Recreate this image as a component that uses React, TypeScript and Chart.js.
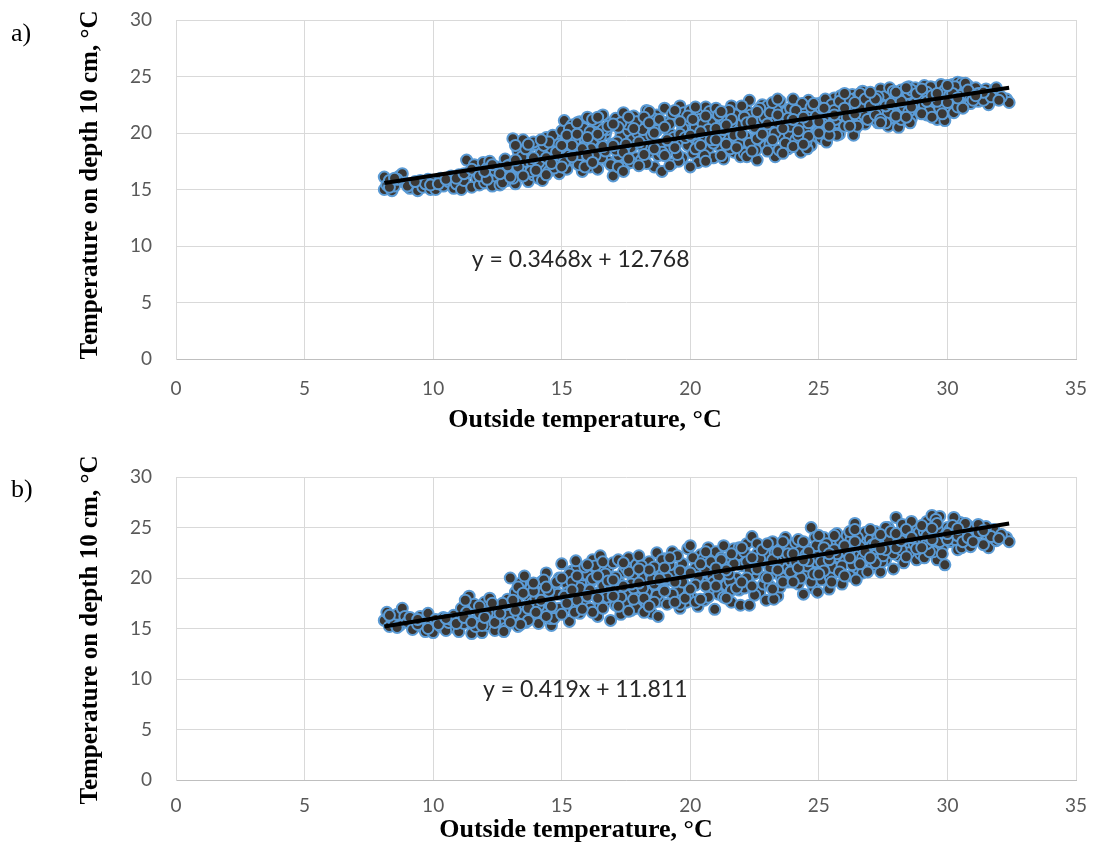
import React, { useEffect, useRef } from "react";
import { Chart, registerables } from "chart.js";

Chart.register(...registerables);

// ---------- data ----------
const xTickValues = [0, 5, 10, 15, 20, 25, 30, 35];
const yTickValues = [0, 5, 10, 15, 20, 25, 30];

// a) outside temperature (x) vs temperature at 10 cm depth (y)
const pointsA1: [number, number][] = [
  [8.1,16.1],[8.1,15.0],[8.2,15.4],[8.3,15.8],[8.4,14.9],[8.5,15.3],[8.7,16.2],[8.8,16.4],[8.9,15.6],[8.6,15.9],
  [9.1,15.1],[9.2,15.5],[9.4,14.9],[9.5,15.8],[9.6,15.2],[9.8,15.9],[9.9,15.0],[9.7,15.5],
  [10.0,15.6],[10.1,15.0],[10.3,16.0],[10.4,15.3],[10.6,15.7],[10.7,16.2],[10.8,15.1],[10.9,15.5],
  [11.0,16.3],[11.1,15.0],[11.2,15.8],[11.3,17.6],[11.4,16.5],[11.5,15.2],[11.6,17.2],[11.7,16.0],[11.8,15.4],[11.9,16.8],[11.95,17.4],
  [12.0,15.6],[12.1,16.9],[12.2,17.5],[12.3,15.3],[12.4,16.2],[12.5,17.0],[12.6,15.4],[12.7,16.6],[12.8,17.7],[12.9,15.8],[12.95,16.3],
  [13.0,17.2],[13.1,19.5],[13.2,15.5],[13.3,18.4],[13.4,16.8],[13.5,19.4],[13.6,17.5],[13.7,15.7],[13.8,18.9],[13.9,16.3],[13.45,17.9],[13.85,17.4],
  [14.0,19.0],[14.1,16.0],[14.2,18.2],[14.3,17.0],[14.4,19.6],[14.5,16.6],[14.6,18.6],[14.7,17.6],[14.8,19.3],[14.9,16.4],[14.25,15.8],[14.65,19.8],[14.95,18.0],
  [15.0,20.2],[15.1,21.1],[15.2,16.8],[15.3,19.0],[15.4,20.7],[15.5,17.6],[15.6,18.4],[15.7,21.0],[15.8,16.6],[15.9,19.6],[15.25,18.0],[15.45,20.0],[15.65,17.2],[15.85,20.4],[15.95,18.8],
  [16.0,21.4],[16.1,17.0],[16.2,19.3],[16.3,20.6],[16.4,16.8],[16.5,18.2],[16.6,21.6],[16.7,19.9],[16.8,17.5],[16.9,20.9],[16.15,18.6],[16.35,21.0],[16.55,17.8],[16.75,20.3],[16.95,19.0],
  [17.0,16.2],[17.1,21.3],[17.2,18.0],[17.3,19.7],[17.4,21.8],[17.5,17.2],[17.6,20.2],[17.7,18.7],[17.8,21.5],[17.9,17.8],[17.15,19.2],[17.35,16.9],[17.55,20.8],[17.75,19.4],[17.95,20.0],
  [18.0,21.0],[18.1,17.6],[18.2,19.5],[18.3,22.0],[18.4,18.3],[18.5,20.5],[18.6,17.0],[18.7,21.6],[18.8,19.0],[18.9,16.6],[18.15,20.3],[18.35,18.8],[18.55,21.3],[18.75,18.0],[18.95,20.9],
  [19.0,22.2],[19.1,18.4],[19.2,20.0],[19.3,17.3],[19.4,21.4],[19.5,19.2],[19.6,22.4],[19.7,17.8],[19.8,20.7],[19.9,18.9],[19.15,21.0],[19.35,19.6],[19.55,17.5],[19.75,21.8],[19.95,20.2],
  [20.0,22.0],[20.1,18.2],[20.2,20.5],[20.3,17.4],[20.4,21.7],[20.5,19.3],[20.6,22.3],[20.7,18.6],[20.8,20.9],[20.9,17.8],[20.15,19.6],[20.35,21.2],[20.55,18.0],[20.75,21.9],[20.95,20.0],
  [21.0,22.2],[21.1,18.9],[21.2,20.6],[21.3,17.7],[21.4,21.8],[21.5,19.5],[21.6,22.4],[21.7,18.3],[21.8,20.2],[21.9,21.3],[21.15,19.9],[21.35,21.0],[21.55,18.6],[21.75,21.6],[21.95,17.9],
  [22.0,20.8],[22.1,18.2],[22.2,22.0],[22.3,22.9],[22.4,19.4],[22.5,21.2],[22.6,17.6],[22.7,20.0],[22.8,22.5],[22.9,18.8],[22.15,19.7],[22.35,21.6],[22.55,18.5],[22.75,21.0],[22.95,20.4],
  [23.0,22.4],[23.1,19.0],[23.2,21.3],[23.3,17.9],[23.4,20.5],[23.5,22.8],[23.6,19.6],[23.7,21.8],[23.8,18.6],[23.9,22.2],[23.15,20.1],[23.45,18.5],[23.65,20.9],[23.85,19.9],[23.35,22.0],
  [24.0,23.0],[24.1,19.4],[24.2,21.5],[24.3,18.3],[24.4,22.3],[24.5,20.4],[24.6,22.9],[24.7,18.9],[24.8,21.1],[24.9,19.8],[24.15,20.7],[24.35,22.6],[24.55,18.6],[24.75,21.8],[24.95,20.1],
  [25.0,22.6],[25.1,19.5],[25.2,21.4],[25.3,19.2],[25.4,22.8],[25.5,20.3],[25.6,23.1],[25.7,20.9],[25.8,19.9],[25.9,22.2],[25.15,20.8],[25.45,21.9],[25.65,21.2],[25.85,23.3],[25.25,23.0],
  [26.0,20.6],[26.1,22.9],[26.2,21.5],[26.3,23.4],[26.4,20.3],[26.5,22.4],[26.6,21.0],[26.7,23.7],[26.8,20.8],[26.9,22.0],[26.15,21.9],[26.45,23.1],[26.75,21.6],[26.35,19.8],[26.95,23.3],
  [27.0,21.3],[27.1,23.5],[27.2,22.2],[27.3,20.9],[27.4,23.9],[27.5,21.7],[27.6,22.8],[27.7,20.6],[27.8,23.4],[27.9,22.0],[27.25,21.1],[27.55,23.2],[27.85,21.4],[27.45,22.5],[27.75,24.0],
  [28.0,22.6],[28.1,20.5],[28.2,23.8],[28.3,21.6],[28.4,22.9],[28.5,24.1],[28.6,21.3],[28.7,23.2],[28.8,22.1],[28.9,23.9],[28.25,22.4],[28.55,20.9],[28.75,24.0],[28.95,21.8],[28.45,23.5],
  [29.0,22.9],[29.1,24.2],[29.2,21.6],[29.3,23.4],[29.4,22.4],[29.5,24.0],[29.6,21.2],[29.7,23.7],[29.8,22.7],[29.9,21.1],[29.15,23.0],[29.45,21.9],[29.75,24.3],[29.95,23.2],[29.35,24.1],
  [30.0,23.8],[30.1,22.3],[30.2,24.3],[30.3,23.0],[30.4,24.5],[30.5,22.6],[30.6,23.9],[30.7,22.9],[30.8,24.2],[30.9,23.5],[30.25,21.8],[30.55,24.4],[30.85,22.8],[30.65,23.4],
  [31.0,23.6],[31.1,24.0],[31.3,23.2],[31.5,23.9],[31.6,22.5],[31.8,23.7],[31.9,24.0],[31.2,22.8],
  [32.3,23.0],[32.4,22.7],[32.1,23.2],
];
const pointsA2: [number, number][] = [
  [8.3,15.2],[8.5,16.0],[9.0,15.3],[9.3,15.7],[9.9,15.4],[10.2,15.5],[10.5,15.9],[10.9,16.0],
  [11.2,16.4],[11.5,16.8],[11.8,16.2],[12.1,15.9],[12.4,16.7],[12.7,15.6],[12.9,17.1],
  [13.1,16.0],[13.3,17.0],[13.6,18.6],[13.8,16.6],[13.2,18.9],[13.9,19.2],
  [14.1,17.4],[14.3,18.9],[14.5,19.2],[14.7,16.9],[14.9,19.0],[14.4,17.8],
  [15.1,17.4],[15.3,20.4],[15.5,19.3],[15.7,18.1],[15.9,17.0],[15.4,18.9],[15.6,20.9],
  [16.1,20.1],[16.3,18.0],[16.5,19.7],[16.7,18.4],[16.9,17.2],[16.2,21.2],[16.6,20.3],
  [17.1,18.5],[17.3,20.9],[17.5,19.0],[17.7,17.4],[17.9,21.0],[17.2,17.0],[17.6,21.4],
  [18.1,18.9],[18.3,17.3],[18.5,19.8],[18.7,20.2],[18.9,18.3],[18.4,21.9],[18.2,21.4],
  [19.1,19.4],[19.3,21.7],[19.5,18.1],[19.7,20.4],[19.9,21.5],[19.2,17.1],[19.6,19.9],
  [20.1,21.2],[20.3,19.0],[20.5,20.8],[20.7,20.3],[20.9,19.1],[20.2,22.3],[20.6,17.5],
  [21.1,21.6],[21.3,20.3],[21.5,22.0],[21.7,19.8],[21.9,19.0],[21.2,18.0],[21.6,20.9],
  [22.1,21.4],[22.3,19.1],[22.5,20.5],[22.7,22.2],[22.9,21.4],[22.2,17.9],[22.6,19.5],
  [23.1,21.8],[23.3,20.0],[23.5,21.2],[23.7,19.1],[23.9,20.6],[23.2,22.7],[23.6,18.2],
  [24.1,22.0],[24.3,21.0],[24.5,19.2],[24.7,22.3],[24.9,21.5],[24.2,19.8],[24.6,20.9],
  [25.1,22.2],[25.3,20.4],[25.5,22.5],[25.7,19.8],[25.9,21.6],[25.2,20.0],[25.6,22.0],
  [26.1,21.4],[26.3,22.3],[26.5,20.6],[26.7,22.6],[26.9,21.2],[26.2,23.0],[26.6,23.5],
  [27.1,22.6],[27.3,23.2],[27.5,22.0],[27.7,21.8],[27.9,23.7],[27.2,21.6],[27.6,20.9],
  [28.1,23.1],[28.3,22.3],[28.5,21.9],[28.7,22.6],[28.9,23.3],[28.2,21.2],[28.6,23.8],
  [29.1,22.5],[29.3,21.9],[29.5,23.1],[29.7,22.2],[29.9,23.8],[29.2,23.6],[29.6,22.8],
  [30.1,23.4],[30.3,24.1],[30.5,23.3],[30.7,24.4],[30.9,22.6],[30.4,22.3],
  [31.2,23.5],[31.4,22.9],[31.7,23.2],[32.0,22.9],
];
const pointsA3: [number, number][] = [
  [12.0,16.6],[12.3,17.2],[12.6,16.4],[13.0,16.1],[13.2,17.6],[13.5,16.2],[13.7,19.0],[13.9,17.8],
  [14.0,16.7],[14.2,19.4],[14.4,16.3],[14.6,17.3],[14.8,18.3],[15.0,17.0],[15.2,19.8],[15.4,17.9],[15.6,19.9],[15.8,18.6],[15.0,18.9],
  [16.0,18.0],[16.2,17.4],[16.4,19.9],[16.6,18.8],[16.8,20.6],[16.0,19.6],[16.4,21.4],
  [17.0,18.9],[17.2,20.5],[17.4,18.3],[17.6,17.7],[17.8,20.4],[17.0,20.8],[17.4,16.6],
  [18.0,19.2],[18.2,18.1],[18.4,20.9],[18.6,18.6],[18.8,21.2],[18.0,17.1],[18.6,20.0],
  [19.0,18.0],[19.2,20.8],[19.4,18.7],[19.6,21.0],[19.8,19.6],[19.0,20.5],[19.4,22.0],
  [20.0,19.8],[20.2,18.6],[20.4,20.1],[20.6,21.5],[20.8,19.4],[20.0,17.0],[20.4,18.9],
  [21.0,20.4],[21.2,21.9],[21.4,19.0],[21.6,21.2],[21.8,18.7],[21.0,19.4],[21.4,20.7],
  [22.0,19.9],[22.2,20.9],[22.4,18.4],[22.6,21.9],[22.8,19.9],[22.0,22.4],[22.4,21.0],
  [23.0,20.8],[23.2,19.4],[23.4,21.6],[23.6,20.4],[23.8,21.3],[23.0,18.4],[23.4,23.0],
  [24.0,21.2],[24.2,20.2],[24.4,21.4],[24.6,19.7],[24.8,22.6],[24.0,18.8],[24.4,19.0],
  [25.0,21.0],[25.2,22.2],[25.4,19.8],[25.6,21.6],[25.8,22.8],[25.0,20.0],[25.4,20.6],
  [26.0,22.2],[26.2,20.6],[26.4,21.7],[26.6,22.3],[26.8,23.0],[26.0,23.5],[26.4,22.7],
  [27.0,22.4],[27.2,23.0],[27.4,21.2],[27.6,22.4],[27.8,22.6],[27.0,23.6],[27.4,20.9],
  [28.0,21.5],[28.2,22.8],[28.4,21.4],[28.6,22.3],[28.8,23.5],[28.0,23.6],[28.4,24.0],
  [29.0,21.7],[29.2,22.8],[29.4,23.3],[29.6,23.5],[29.8,21.7],[29.0,23.9],[29.4,21.4],
  [30.0,22.7],[30.2,23.5],[30.4,23.1],[30.6,22.2],[30.8,23.8],[30.0,24.2],
  [31.0,22.9],[31.4,23.6],[31.1,23.3],
];
const trendXA = [8.1, 32.4];
const trendYA = [15.58, 24.0];
const equationA = "y = 0.3468x + 12.768";

// b)
const pointsB1: [number, number][] = [
  [8.1,15.8],[8.2,16.6],[8.3,15.2],[8.4,16.0],[8.5,15.5],[8.6,16.4],[8.8,17.0],[8.9,16.2],[8.7,15.3],
  [9.0,15.6],[9.2,14.9],[9.3,15.8],[9.5,16.2],[9.6,15.1],[9.7,14.7],[9.8,16.5],[9.9,15.5],[9.4,15.4],
  [10.0,14.6],[10.1,15.9],[10.3,15.2],[10.4,16.1],[10.5,14.8],[10.6,15.6],[10.8,16.3],[10.9,15.0],[10.7,15.9],
  [11.0,14.7],[11.1,17.0],[11.2,15.5],[11.3,16.6],[11.4,18.2],[11.5,14.5],[11.6,17.4],[11.7,15.9],[11.8,16.5],[11.9,14.6],[11.25,17.8],[11.65,15.2],
  [12.0,17.6],[12.1,15.3],[12.2,18.0],[12.3,16.2],[12.4,14.8],[12.5,17.2],[12.6,15.7],[12.7,16.8],[12.8,15.0],[12.9,17.9],[12.35,16.6],[12.75,14.7],
  [13.0,20.0],[13.1,16.3],[13.2,18.6],[13.3,15.2],[13.4,19.5],[13.5,17.1],[13.6,15.6],[13.7,18.2],[13.8,19.0],[13.9,16.0],[13.25,17.6],[13.55,20.2],[13.85,17.5],
  [14.0,18.0],[14.1,15.5],[14.2,19.6],[14.3,16.8],[14.4,20.5],[14.5,17.5],[14.6,15.3],[14.7,19.0],[14.8,16.4],[14.9,20.0],[14.25,18.5],[14.55,16.0],[14.85,18.4],
  [15.0,21.4],[15.1,16.9],[15.2,19.4],[15.3,15.7],[15.4,20.7],[15.5,18.0],[15.6,21.0],[15.7,16.5],[15.8,19.8],[15.9,17.4],[15.25,18.6],[15.55,21.7],[15.85,20.3],[15.45,17.3],
  [16.0,20.3],[16.1,17.0],[16.2,21.8],[16.3,18.5],[16.4,16.2],[16.5,22.2],[16.6,19.2],[16.7,17.6],[16.8,21.0],[16.9,15.8],[16.15,19.7],[16.45,20.9],[16.75,18.1],[16.95,20.0],
  [17.0,21.5],[17.1,17.3],[17.2,19.7],[17.3,16.4],[17.4,20.6],[17.5,18.4],[17.6,22.0],[17.7,16.8],[17.8,19.0],[17.9,21.3],[17.15,18.7],[17.45,17.5],[17.75,20.2],[17.95,18.0],
  [18.0,22.2],[18.1,17.0],[18.2,20.0],[18.3,18.6],[18.4,21.6],[18.5,16.5],[18.6,19.4],[18.7,22.5],[18.8,17.7],[18.9,20.8],[18.15,19.0],[18.45,20.5],[18.75,16.2],[18.95,18.8],
  [19.0,21.9],[19.1,17.4],[19.2,19.8],[19.3,22.6],[19.4,18.2],[19.5,20.9],[19.6,17.0],[19.7,21.4],[19.8,19.2],[19.9,22.9],[19.25,20.4],[19.55,18.8],[19.85,17.6],[19.95,20.6],
  [20.0,23.2],[20.1,18.0],[20.2,21.0],[20.3,17.2],[20.4,22.3],[20.5,19.5],[20.6,20.7],[20.7,23.0],[20.8,18.6],[20.9,21.8],[20.25,19.9],[20.55,17.8],[20.85,20.2],[20.95,16.9],
  [21.0,22.6],[21.1,18.4],[21.2,20.6],[21.3,23.2],[21.4,19.3],[21.5,21.7],[21.6,17.6],[21.7,22.9],[21.8,20.0],[21.9,18.8],[21.25,21.3],[21.55,19.7],[21.85,22.3],[21.95,17.3],
  [22.0,21.2],[22.1,19.0],[22.2,23.4],[22.3,17.3],[22.4,24.1],[22.5,20.4],[22.6,22.4],[22.7,18.6],[22.8,21.6],[22.9,23.0],[22.25,19.8],[22.55,21.0],[22.85,19.4],[22.95,17.8],
  [23.0,22.2],[23.1,19.2],[23.2,23.6],[23.3,20.5],[23.4,18.2],[23.5,22.8],[23.6,21.2],[23.7,24.0],[23.8,19.6],[23.9,21.7],[23.25,17.9],[23.55,20.0],[23.85,23.0],[23.45,21.6],
  [24.0,20.9],[24.1,23.5],[24.2,19.4],[24.3,22.0],[24.4,18.4],[24.5,23.0],[24.6,20.4],[24.7,25.0],[24.8,19.0],[24.9,21.6],[24.25,22.6],[24.55,21.2],[24.85,24.0],[24.95,18.6],
  [25.0,22.8],[25.1,19.8],[25.2,24.0],[25.3,21.3],[25.4,18.9],[25.5,23.3],[25.6,20.6],[25.7,24.4],[25.8,22.0],[25.9,19.4],[25.25,22.5],[25.55,21.0],[25.85,23.6],[25.45,20.0],
  [26.0,21.6],[26.1,24.2],[26.2,20.2],[26.3,23.0],[26.4,25.4],[26.5,21.0],[26.6,22.6],[26.7,20.5],[26.8,24.5],[26.9,21.9],[26.25,23.8],[26.55,22.2],[26.85,23.4],[26.45,19.8],
  [27.0,23.8],[27.1,21.2],[27.2,24.6],[27.3,22.4],[27.4,20.6],[27.5,24.0],[27.6,21.8],[27.7,25.0],[27.8,23.0],[27.9,20.9],[27.25,22.9],[27.55,23.5],[27.85,24.4],[27.45,21.6],
  [28.0,26.0],[28.1,22.2],[28.2,24.2],[28.3,21.5],[28.4,23.4],[28.5,25.2],[28.6,22.8],[28.7,24.8],[28.8,21.8],[28.9,23.8],[28.25,25.3],[28.55,23.0],[28.85,25.0],[28.95,22.4],
  [29.0,24.0],[29.1,22.0],[29.2,25.6],[29.3,23.2],[29.4,26.2],[29.5,24.4],[29.6,21.8],[29.7,26.1],[29.8,23.0],[29.9,21.3],[29.25,24.8],[29.55,25.8],[29.85,24.6],[29.45,22.6],
  [30.0,25.0],[30.1,23.6],[30.2,24.3],[30.3,25.8],[30.4,22.8],[30.5,25.5],[30.6,24.0],[30.7,23.3],[30.8,25.2],[30.9,24.6],[30.25,26.0],[30.55,23.0],[30.85,23.6],
  [31.0,24.8],[31.1,24.2],[31.3,25.0],[31.5,24.4],[31.6,23.0],[31.8,24.8],[31.9,23.7],[31.4,23.3],
  [32.3,24.0],[32.4,23.6],[32.1,24.3],
];
const pointsB2: [number, number][] = [
  [8.3,16.3],[8.6,15.1],[9.1,16.1],[9.4,15.9],[9.8,15.0],[10.2,15.4],[10.5,16.0],[10.9,15.5],
  [11.2,16.1],[11.5,15.6],[11.8,17.2],[12.1,16.5],[12.4,15.6],[12.7,17.5],[12.9,16.3],[11.9,15.3],
  [13.1,17.8],[13.3,19.1],[13.5,16.4],[13.7,15.8],[13.9,18.7],[13.4,15.4],
  [14.1,17.2],[14.3,19.8],[14.5,18.7],[14.7,16.0],[14.9,17.0],[14.4,16.2],
  [15.1,18.2],[15.3,20.4],[15.5,16.6],[15.7,19.0],[15.9,21.1],[15.4,19.6],[15.6,17.8],
  [16.1,18.8],[16.3,21.2],[16.5,17.3],[16.7,20.4],[16.9,19.1],[16.2,16.6],[16.6,21.6],
  [17.1,20.1],[17.3,18.1],[17.5,21.0],[17.7,19.4],[17.9,17.0],[17.2,21.8],[17.6,16.7],
  [18.1,21.2],[18.3,17.5],[18.5,19.9],[18.7,18.3],[18.9,21.8],[18.2,16.6],[18.6,21.1],
  [19.1,20.0],[19.3,18.4],[19.5,22.2],[19.7,19.6],[19.9,18.2],[19.2,21.3],[19.6,17.4],
  [20.1,22.0],[20.3,20.1],[20.5,21.9],[20.7,18.1],[20.9,19.6],[20.2,17.6],[20.6,22.6],
  [21.1,20.2],[21.3,18.1],[21.5,20.4],[21.7,21.4],[21.9,23.0],[21.2,22.0],[21.6,18.8],
  [22.1,22.6],[22.3,20.8],[22.5,18.3],[22.7,21.9],[22.9,20.1],[22.2,20.0],[22.6,23.4],
  [23.1,21.0],[23.3,22.5],[23.5,19.1],[23.7,22.2],[23.9,20.6],[23.2,18.9],[23.6,23.6],
  [24.1,21.6],[24.3,20.0],[24.5,22.3],[24.7,19.6],[24.9,23.2],[24.2,23.8],[24.6,21.7],
  [25.1,21.6],[25.3,23.4],[25.5,19.6],[25.7,22.4],[25.9,21.2],[25.2,20.7],[25.6,24.2],
  [26.1,22.6],[26.3,21.3],[26.5,24.0],[26.7,22.0],[26.9,20.6],[26.2,24.6],[26.6,23.1],
  [27.1,23.3],[27.3,24.0],[27.5,22.2],[27.7,23.8],[27.9,22.4],[27.2,21.5],[27.6,25.0],
  [28.1,23.5],[28.3,24.4],[28.5,22.5],[28.7,23.4],[28.9,24.5],[28.2,22.8],[28.6,25.6],
  [29.1,24.6],[29.3,22.6],[29.5,25.1],[29.7,23.6],[29.9,24.3],[29.2,23.4],[29.6,24.9],
  [30.1,24.8],[30.3,23.8],[30.5,24.6],[30.7,25.4],[30.9,23.1],[30.4,24.2],
  [31.2,24.5],[31.5,25.1],[31.7,24.1],[32.0,23.9],
];
const pointsB3: [number, number][] = [
  [12.0,16.1],[12.3,17.5],[12.6,16.5],[13.0,15.6],[13.2,16.8],[13.5,18.5],[13.7,17.0],[13.9,19.5],
  [14.0,16.6],[14.2,17.8],[14.4,19.1],[14.6,17.2],[14.8,19.6],[15.0,16.4],[15.2,17.5],[15.4,18.8],[15.6,20.2],[15.8,16.9],[15.0,20.0],
  [16.0,18.2],[16.2,19.9],[16.4,18.0],[16.6,17.0],[16.8,19.7],[16.0,21.3],[16.4,20.2],
  [17.0,18.2],[17.2,17.2],[17.4,19.2],[17.6,20.6],[17.8,17.9],[17.0,19.8],[17.4,21.5],
  [18.0,19.5],[18.2,18.0],[18.4,20.8],[18.6,17.6],[18.8,19.9],[18.0,20.9],[18.4,17.2],
  [19.0,18.7],[19.2,22.0],[19.4,19.6],[19.6,20.7],[19.8,18.0],[19.0,21.0],[19.4,17.6],
  [20.0,20.5],[20.2,19.3],[20.4,17.9],[20.6,19.2],[20.8,21.6],[20.0,18.9],[20.4,21.4],
  [21.0,19.2],[21.2,21.8],[21.4,20.8],[21.6,22.4],[21.8,19.0],[21.0,21.0],[21.4,18.0],
  [22.0,19.6],[22.2,21.6],[22.4,19.2],[22.6,20.9],[22.8,22.8],[22.0,23.0],[22.4,22.0],
  [23.0,20.0],[23.2,21.8],[23.4,22.6],[23.6,19.6],[23.8,22.4],[23.0,23.4],[23.4,20.8],
  [24.0,22.4],[24.2,21.0],[24.4,23.6],[24.6,22.6],[24.8,20.4],[24.0,19.6],[24.4,21.8],
  [25.0,20.4],[25.2,23.0],[25.4,21.8],[25.6,22.8],[25.8,20.6],[25.0,24.2],[25.4,22.4],
  [26.0,23.2],[26.2,22.0],[26.4,23.6],[26.6,21.4],[26.8,22.6],[26.0,20.2],[26.4,24.8],
  [27.0,22.0],[27.2,23.4],[27.4,24.3],[27.6,22.8],[27.8,24.6],[27.0,24.8],[27.4,22.9],
  [28.0,23.0],[28.2,23.7],[28.4,24.8],[28.6,24.0],[28.8,22.9],[28.0,24.4],[28.4,22.1],
  [29.0,23.0],[29.2,24.2],[29.4,23.8],[29.6,25.4],[29.8,22.4],[29.0,25.2],[29.4,24.9],
  [30.0,23.8],[30.2,25.2],[30.4,24.9],[30.6,23.6],[30.8,24.0],[30.0,24.4],
  [31.0,23.6],[31.2,25.3],[31.4,24.7],
];
const trendXB = [8.1, 32.4];
const trendYB = [15.2, 25.39];
const equationB = "y = 0.419x + 11.811";

const xTitle = "Outside temperature, °C";
const yTitle = "Temperature on depth 10 cm, °C";

// ---------- component ----------
const overlayPlugin = {
  id: "overlay",
  afterDraw(chart: any, _args: any, opts: any) {
    const ctx = chart.ctx;
    const xs = chart.scales.x;
    const ys = chart.scales.y;
    ctx.save();
    ctx.font = "23px Lato";
    ctx.fillStyle = "#262626";
    ctx.textAlign = "left";
    ctx.textBaseline = "middle";
    ctx.fillText(opts.equation, xs.getPixelForValue(opts.eqX), ys.getPixelForValue(opts.eqY));
    ctx.font = '26px "Liberation Serif"';
    ctx.fillStyle = "#000";
    ctx.fillText(opts.panel, 11, opts.panelY);
    ctx.font = 'bold 26px "Liberation Serif"';
    ctx.textAlign = "center";
    ctx.fillText(opts.xTitle, opts.xTitleX, opts.xTitleY);
    ctx.translate(91, opts.yTitleY);
    ctx.rotate(-Math.PI / 2);
    ctx.font = 'bold 25px "Liberation Serif"';
    ctx.fillText(opts.yTitle, 0, 0);
    ctx.restore();
  },
};

type PanelProps = {
  points: [number, number][];
  trendX: number[];
  trendY: number[];
  equation: string;
  eqX: number;
  eqY: number;
  panel: string;
  panelY: number;
  top: number;
  height: number;
  padTop: number;
  xAxisHeight: number;
  tickPadX: number;
  xTitleX: number;
  xTitleY: number;
  yTitleY: number;
};

function Panel(p: PanelProps) {
  const ref = useRef<HTMLCanvasElement | null>(null);
  useEffect(() => {
    if (!ref.current) return;
    const chart = new Chart(ref.current, {
      type: "scatter",
      data: {
        datasets: [
          {
            type: "line",
            data: p.trendX.map((x, i) => ({ x, y: p.trendY[i] })),
            borderColor: "#000000",
            borderWidth: 4,
            pointRadius: 0,
            fill: false,
          } as any,
          {
            type: "scatter",
            data: p.points.map(([x, y]) => ({ x, y })),
            backgroundColor: "#3b3835",
            borderColor: "#5b9bd5",
            borderWidth: 2,
            pointRadius: 5.5,
          },
        ],
      },
      options: {
        responsive: false,
        animation: false,
        layout: { padding: { top: p.padTop, right: 21, left: 0, bottom: 0 } },
        plugins: {
          legend: { display: false },
          tooltip: { enabled: false },
          overlay: {
            equation: p.equation,
            eqX: p.eqX,
            eqY: p.eqY,
            panel: p.panel,
            panelY: p.panelY,
            xTitle,
            yTitle,
            xTitleX: p.xTitleX,
            xTitleY: p.xTitleY,
            yTitleY: p.yTitleY,
          },
        } as any,
        scales: {
          x: {
            type: "linear",
            min: 0,
            max: 35,
            afterBuildTicks: (s: any) => {
              s.ticks = xTickValues.map((v) => ({ value: v }));
            },
            afterFit: (s: any) => {
              s.height = p.xAxisHeight;
              s.paddingLeft = 0;
              s.paddingRight = 0;
              s.paddingTop = 0;
              s.paddingBottom = 0;
            },
            grid: { color: "#d9d9d9", lineWidth: 1, drawTicks: false },
            border: { color: "#bfbfbf", width: 1 },
            ticks: {
              padding: p.tickPadX,
              color: "#595959",
              font: { family: "Lato", size: 19 },
            },
          },
          y: {
            type: "linear",
            min: 0,
            max: 30,
            afterBuildTicks: (s: any) => {
              s.ticks = yTickValues.map((v) => ({ value: v }));
            },
            afterFit: (s: any) => {
              s.width = 176;
              s.paddingLeft = 0;
              s.paddingRight = 0;
              s.paddingTop = 0;
              s.paddingBottom = 0;
            },
            grid: { color: "#d9d9d9", lineWidth: 1, drawTicks: false },
            border: { color: "#d9d9d9", width: 1 },
            ticks: {
              padding: 24,
              color: "#595959",
              font: { family: "Lato", size: 19 },
            },
          },
        },
      },
      plugins: [overlayPlugin],
    });
    return () => chart.destroy();
  }, []);
  return (
    <canvas
      ref={ref}
      width={1097}
      height={p.height}
      style={{ position: "absolute", left: 0, top: p.top, width: 1097, height: p.height }}
    />
  );
}

export default function App() {
  return (
    <div style={{ position: "fixed", left: 0, top: 0, width: 1097, height: 849, background: "#fff", overflow: "hidden" }}>
      <Panel
        points={[...pointsA1, ...pointsA2, ...pointsA3]}
        trendX={trendXA}
        trendY={trendYA}
        equation={equationA}
        eqX={11.5}
        eqY={8.76}
        panel="a)"
        panelY={34}
        top={0}
        height={434}
        padTop={20}
        xAxisHeight={75}
        tickPadX={18}
        xTitleX={585}
        xTitleY={420}
        yTitleY={185}
      />
      <Panel
        points={[...pointsB1, ...pointsB2, ...pointsB3]}
        trendX={trendXB}
        trendY={trendYB}
        equation={equationB}
        eqX={11.94}
        eqY={9.0}
        panel="b)"
        panelY={50}
        top={440}
        height={409}
        padTop={37}
        xAxisHeight={69}
        tickPadX={14}
        xTitleX={576}
        xTitleY={390}
        yTitleY={190}
      />
    </div>
  );
}
